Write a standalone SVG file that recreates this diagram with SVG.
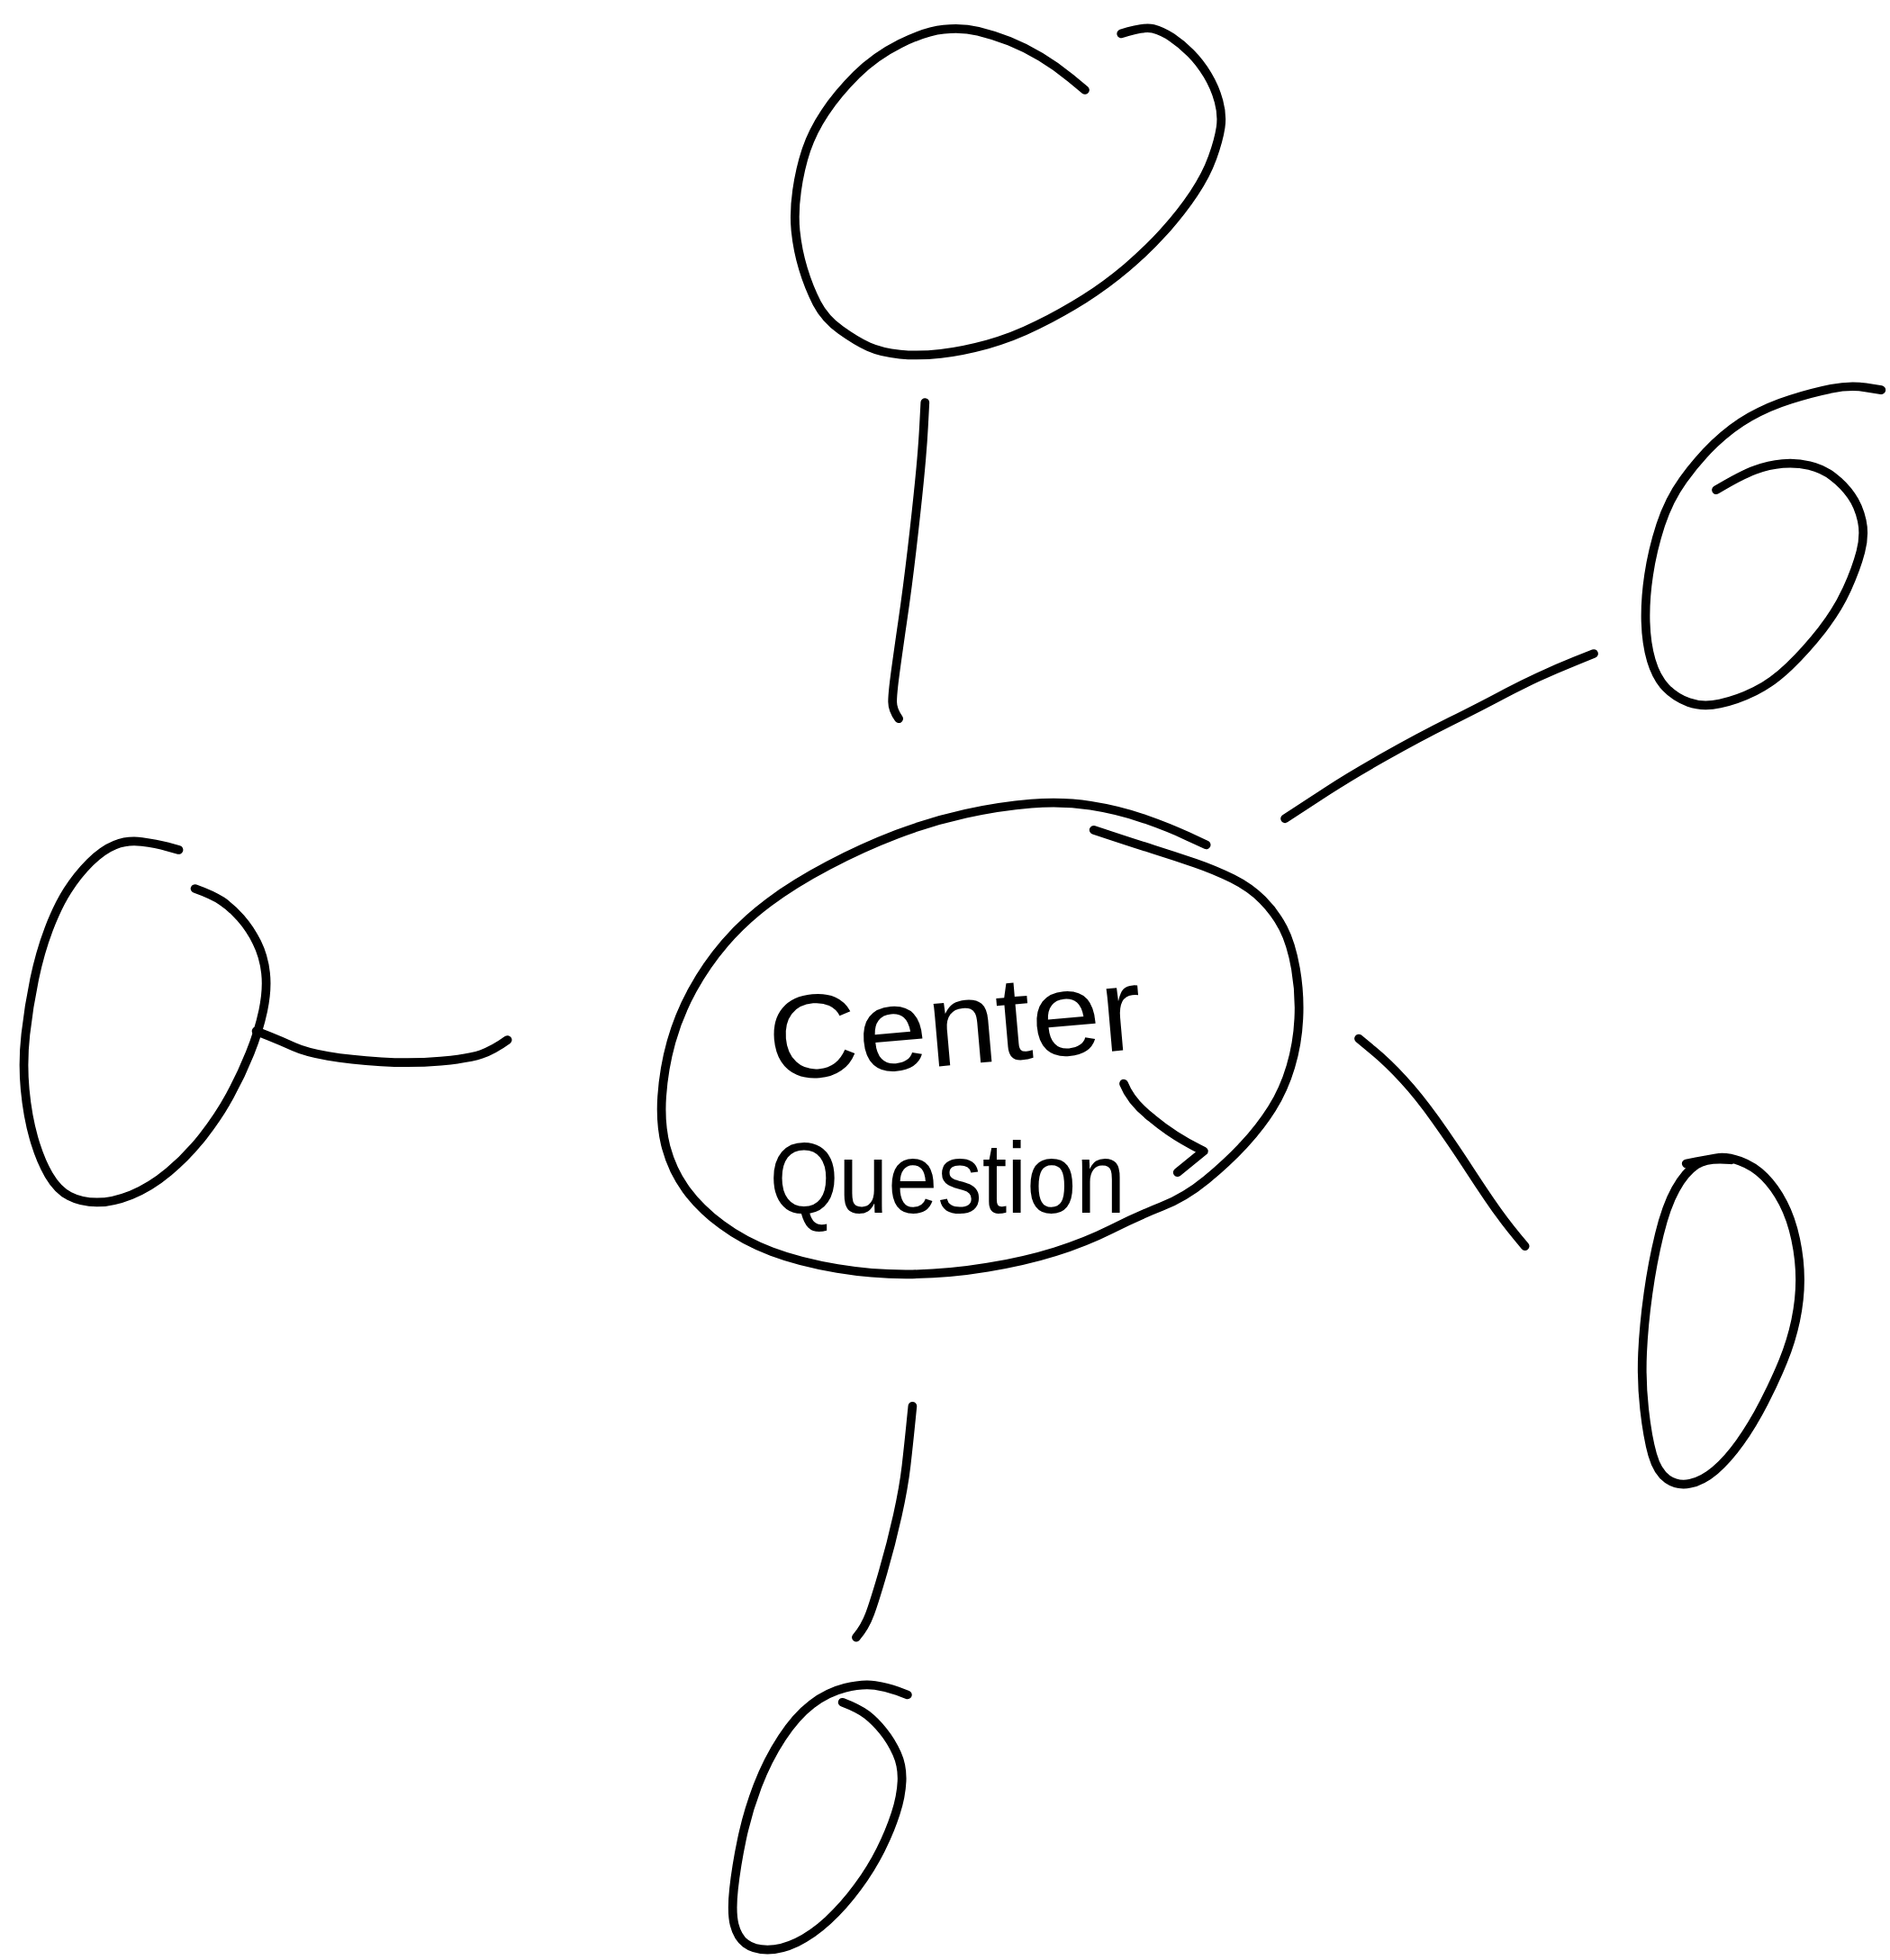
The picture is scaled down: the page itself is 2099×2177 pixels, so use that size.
<svg xmlns="http://www.w3.org/2000/svg" width="2099" height="2177" viewBox="0 0 2099 2177">
<style>
.s{fill:none;stroke:#000;stroke-width:7;stroke-linecap:round;stroke-linejoin:round}
.t{font-family:"Liberation Sans","DejaVu Sans",sans-serif;fill:#000}
</style>
<rect width="2099" height="2177" fill="#fff"/>
<g transform="scale(1.38823)">
<g id="connectors">
<path class="s" d="M740,322 L739,341 Q738,360 735.5,385 Q733,410 729.5,440 Q726,470 722,497.5 Q718,525 716,540 Q714,555 714,561.5 Q714,568 719,575"/>
<path class="s" d="M1275,523 L1260,529 Q1245,535 1230,542 Q1215,549 1200,557 Q1185,565 1160,577.5 Q1135,590 1107.5,605.5 Q1080,621 1062.5,632.5 Q1045,644 1028,655"/>
<path class="s" d="M205,825 L215,829 Q225,833 235,837.5 Q245,842 262.5,845 Q280,848 305,849.5 Q330,851 352.5,849 Q375,847 385,843.5 Q395,840 406,832"/>
<path class="s" d="M1087,831 L1098.5,840.5 Q1110,850 1122.5,863.5 Q1135,877 1148.5,896 Q1162,915 1176,936.5 Q1190,958 1199,970.5 Q1208,983 1220,997"/>
<path class="s" d="M730,1125 L728.5,1140 Q727,1155 725,1172.5 Q723,1190 718,1212.5 Q713,1235 706.5,1257.5 Q700,1280 696,1291 Q692,1302 685,1310"/>
</g>
<g id="center">
<path class="s" d="M965,676 L950,669 Q935,662 915,655 Q895,648 872.5,644.5 Q850,641 825,643 Q800,645 772.5,651 Q745,657 717.5,667.5 Q690,678 662.5,692.5 Q635,707 615,722 Q595,737 580,754.5 Q565,772 554,792 Q543,812 537,833.5 Q531,855 529.5,877.5 Q528,900 533,918.5 Q538,937 549,952 Q560,967 577.5,980 Q595,993 617.5,1001.5 Q640,1010 670,1015 Q700,1020 730,1019.5 Q760,1019 790,1014 Q820,1009 844,1001.5 Q868,994 889,983.5 Q910,973 929,965.5 Q948,958 965,944 Q982,930 995,916 Q1008,902 1017.5,887 Q1027,872 1032.5,853.5 Q1038,835 1039,815 Q1040,795 1036.5,775 Q1033,755 1026.5,742.5 Q1020,730 1010,720 Q1000,710 986,703 Q972,696 956,690.5 Q940,685 922.5,679.5 Q905,674 875,664"/>
<path class="s" d="M899,867 Q905,882 922,895 Q940,910 963,921 L942,938"/>
<text class="t" x="764" y="852" font-size="95" text-anchor="middle" textLength="300" lengthAdjust="spacingAndGlyphs" transform="rotate(-5 764 822)">Center</text>
<text class="t" x="758" y="970" font-size="80" text-anchor="middle" textLength="285" lengthAdjust="spacingAndGlyphs">Question</text>
</g>
<g id="node-top">
<path class="s" d="M868,72 L856.5,62.5 Q845,53 832.5,45.5 Q820,38 807.5,33 Q795,28 782.5,25 Q770,22 755,23.5 Q740,25 720,35 Q700,45 685,60 Q670,75 660,90 Q650,105 645,120 Q640,135 637.5,152.5 Q635,170 636.5,185 Q638,200 642.5,215 Q647,230 653.5,242.5 Q660,255 672.5,264 Q685,273 695,277.5 Q705,282 720,283.5 Q735,285 752.5,283 Q770,281 790,275.5 Q810,270 830,260 Q850,250 867.5,239 Q885,228 901.5,214 Q918,200 931.5,185 Q945,170 955,155 Q965,140 970,126 Q975,112 976.5,102 Q978,92 975,81 Q972,70 966,60 Q960,50 952.5,42.5 Q945,35 937.5,30 Q930,25 922.5,23 Q915,21 897,27"/>
</g>
<g id="node-top-right">
<path class="s" d="M1505,312 L1492.5,310 Q1480,308 1465,311 Q1450,314 1432.5,319.5 Q1415,325 1400,333.5 Q1385,342 1371.5,355 Q1358,368 1346.5,384 Q1335,400 1328.5,420 Q1322,440 1319,460 Q1316,480 1316.5,497.5 Q1317,515 1321,528.5 Q1325,542 1332.5,550 Q1340,558 1351,562 Q1362,566 1376,563 Q1390,560 1404,553 Q1418,546 1431.5,533 Q1445,520 1457.5,504 Q1470,488 1477.5,471.5 Q1485,455 1488.5,441.5 Q1492,428 1489.5,416.5 Q1487,405 1481,396.5 Q1475,388 1466.5,381.5 Q1458,375 1447.5,372.5 Q1437,370 1426,371 Q1415,372 1404,376 Q1393,380 1373,392"/>
</g>
<g id="node-left">
<path class="s" d="M143,680 L134,677.5 Q125,675 113.5,673.5 Q102,672 92,676 Q82,680 72,690 Q62,700 54,712.5 Q46,725 39,743.5 Q32,762 27.5,783.5 Q23,805 20.5,827.5 Q18,850 20,871.5 Q22,893 27,910.5 Q32,928 39,940 Q46,952 55.5,957 Q65,962 77.5,962 Q90,962 105,956 Q120,950 135,937.5 Q150,925 162.5,909 Q175,893 184,876.5 Q193,860 200,842.5 Q207,825 210.5,808.5 Q214,792 212.5,778.5 Q211,765 205.5,754 Q200,743 192.5,734.5 Q185,726 177.5,721 Q170,716 156,711"/>
</g>
<g id="node-bottom-right">
<path class="s" d="M1349,931 L1357,929.5 Q1365,928 1373,926.5 Q1381,925 1392,929 Q1403,933 1411.5,941.5 Q1420,950 1426.5,962.5 Q1433,975 1436.5,991.5 Q1440,1008 1440,1024 Q1440,1040 1436.5,1056.5 Q1433,1073 1426.5,1089 Q1420,1105 1411,1122.5 Q1402,1140 1392,1154 Q1382,1168 1372,1176.5 Q1362,1185 1352,1187 Q1342,1189 1334,1183.5 Q1326,1178 1322,1164 Q1318,1150 1315.5,1127.5 Q1313,1105 1314,1082.5 Q1315,1060 1318.5,1035 Q1322,1010 1327.5,987.5 Q1333,965 1340.5,951.5 Q1348,938 1357,932 Q1366,926 1385,928"/>
</g>
<g id="node-bottom">
<path class="s" d="M726,1356 L718,1353 Q710,1350 700,1348.5 Q690,1347 676,1350.5 Q662,1354 649.5,1363.5 Q637,1373 625.5,1390.5 Q614,1408 606,1429 Q598,1450 593.5,1471.5 Q589,1493 587,1511.5 Q585,1530 587.5,1540 Q590,1550 596.5,1555 Q603,1560 614,1560 Q625,1560 637.5,1554 Q650,1548 662.5,1536.5 Q675,1525 686,1510 Q697,1495 704.5,1480 Q712,1465 716.5,1451 Q721,1437 721.5,1425 Q722,1413 717.5,1403 Q713,1393 706.5,1385 Q700,1377 693.5,1372 Q687,1367 674,1362"/>
</g>
</g>
</svg>
